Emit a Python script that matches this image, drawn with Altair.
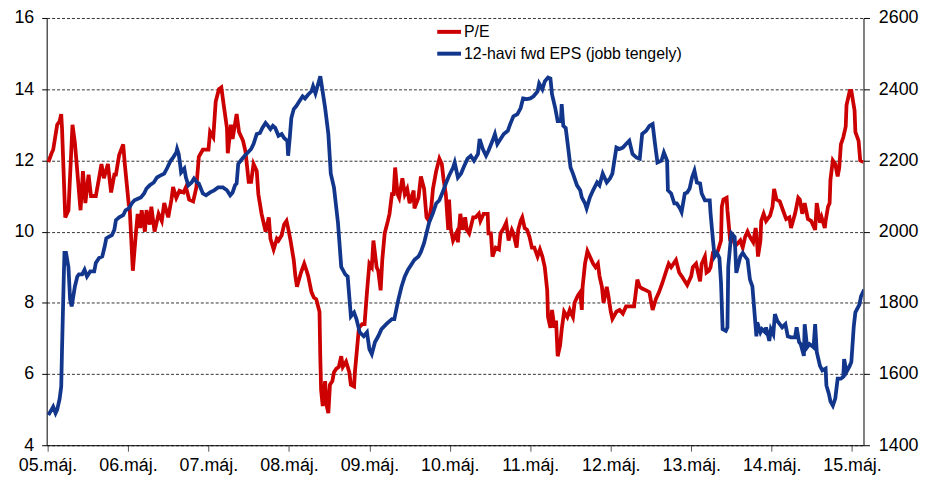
import altair as alt
import pandas as pd

# time in years since 1 May 2005
pe_t = [0.01,0.05,0.07,0.12,0.15,0.17,0.18,0.22,0.26,0.31,
        0.34,0.41,0.44,0.47,0.51,0.54,0.60,0.64,0.67,0.70,
        0.75,0.79,0.83,0.85,0.89,0.94,0.96,1.01,1.02,1.06,
        1.10,1.12,1.15,1.17,1.21,1.23,1.27,1.29,1.33,1.38,
        1.42,1.45,1.50,1.54,1.56,1.60,1.64,1.69,1.72,1.76,
        1.81,1.85,1.88,1.93,2.00,2.02,2.06,2.09,2.13,2.16,
        2.19,2.23,2.24,2.28,2.30,2.35,2.38,2.43,2.46,2.50,
        2.53,2.56,2.60,2.62,2.66,2.69,2.71,2.75,2.77,2.81,
        2.85,2.87,2.91,2.94,2.97,2.99,3.02,3.06,3.08,3.10,
        3.15,3.19,3.22,3.24,3.28,3.31,3.34,3.38,3.39,3.40,
        3.42,3.45,3.47,3.49,3.51,3.54,3.56,3.59,3.62,3.65,
        3.67,3.71,3.75,3.77,3.81,3.82,3.87,3.91,3.94,3.97,
        4.00,4.03,4.05,4.09,4.11,4.14,4.16,4.19,4.23,4.25,
        4.28,4.30,4.32,4.35,4.37,4.41,4.44,4.47,4.50,4.55,
        4.56,4.61,4.64,4.68,4.71,4.74,4.77,4.79,4.83,4.87,
        4.90,4.92,4.95,4.98,4.99,5.01,5.04,5.08,5.10,5.13,
        5.16,5.19,5.21,5.24,5.29,5.32,5.36,5.38,5.42,5.47,
        5.48,5.51,5.53,5.57,5.61,5.63,5.67,5.70,5.73,5.77,
        5.79,5.83,5.85,5.88,5.90,5.93,5.96,5.99,6.02,6.05,
        6.09,6.12,6.15,6.18,6.21,6.22,6.25,6.27,6.30,6.32,
        6.34,6.37,6.39,6.42,6.46,6.49,6.53,6.55,6.59,6.62,
        6.64,6.65,6.68,6.71,6.74,6.78,6.81,6.84,6.86,6.89,
        6.91,6.95,6.97,7.00,7.02,7.07,7.11,7.15,7.19,7.26,
        7.29,7.33,7.36,7.39,7.44,7.48,7.52,7.56,7.60,7.64,
        7.69,7.72,7.75,7.81,7.85,7.88,7.95,8.00,8.02,8.06,
        8.08,8.11,8.13,8.17,8.19,8.22,8.24,8.27,8.30,8.33,
        8.37,8.38,8.40,8.44,8.45,8.48,8.50,8.55,8.57,8.61,
        8.64,8.67,8.70,8.73,8.77,8.80,8.81,8.83,8.86,8.87,
        8.90,8.93,8.98,9.01,9.03,9.06,9.10,9.14,9.18,9.22,
        9.24,9.29,9.33,9.35,9.38,9.41,9.45,9.49,9.54,9.56,
        9.60,9.62,9.66,9.67,9.70,9.72,9.73,9.76,9.79,9.82,
        9.84,9.86,9.89,9.92,9.93,9.97,9.99,10.03,10.04,10.08,
        10.10,10.14]

pe_values = [11.95,12.2,12.3,13.0,13.1,13.3,12.9,10.4,10.6,13.0,
             12.5,10.6,11.7,10.8,11.6,11.0,11.0,11.5,11.9,11.5,
             11.9,11.1,11.6,11.6,12.15,12.45,11.9,10.75,10.7,8.9,
             10.0,10.5,10.1,10.6,10.0,10.6,10.2,10.7,10.0,10.5,
             10.3,10.8,10.4,10.9,11.25,10.95,11.15,11.1,11.25,10.9,
             10.85,11.25,12.1,12.3,12.3,12.8,12.65,13.65,14.0,14.05,
             13.55,12.9,12.2,13.0,12.6,13.3,12.8,12.55,12.25,11.4,
             11.4,11.9,11.7,11.05,10.5,10.2,10.0,10.4,9.8,9.5,
             9.8,9.75,9.9,10.2,10.3,10.1,9.75,9.2,8.75,8.45,
             8.85,9.1,8.9,8.75,8.3,8.15,8.1,7.75,6.45,5.55,
             5.1,5.8,5.1,4.9,5.7,5.8,6.05,6.15,6.2,6.5,
             6.2,6.35,6.05,5.7,5.65,6.05,7.3,7.4,7.4,8.3,
             9.1,9.0,9.75,9.0,8.9,8.35,9.2,9.95,10.3,10.5,
             11.05,11.05,11.8,11.05,10.95,11.5,11.05,11.2,10.8,11.15,
             10.65,10.95,11.55,11.2,10.4,10.3,10.7,11.2,11.7,12.05,
             11.9,11.5,11.05,10.05,10.9,10.1,9.75,9.95,9.7,10.5,
             10.05,10.4,10.05,9.95,10.4,10.4,10.5,10.3,10.5,10.5,
             9.95,9.95,9.3,9.55,9.5,9.95,10.1,10.25,9.75,10.05,
             9.95,9.55,10.05,10.3,10.4,10.1,10.05,9.85,9.55,9.55,
             9.3,9.5,9.3,9.0,8.35,7.6,7.3,7.8,7.3,7.5,
             6.5,6.8,7.25,7.75,7.6,7.8,7.6,8.0,8.2,8.3,
             7.8,8.45,9.1,9.45,9.3,9.1,9.0,9.1,8.75,8.45,
             8.0,8.45,8.2,7.75,7.55,7.75,7.8,7.7,7.9,7.9,
             7.9,8.65,8.45,8.4,8.35,8.3,7.8,8.1,8.3,8.55,
             8.9,9.1,9.0,9.2,8.85,8.75,8.5,8.75,9.0,9.1,
             8.9,8.6,9.1,9.3,8.85,8.9,9.0,9.4,9.4,9.45,
             9.75,10.7,10.9,10.95,10.6,9.85,9.9,9.6,9.65,9.75,
             9.55,9.85,10.0,9.85,9.7,10.1,9.95,9.3,9.75,10.3,
             10.5,10.3,10.45,10.7,11.2,10.9,10.85,10.6,10.35,10.4,
             10.1,10.5,10.95,10.9,10.5,10.8,10.35,10.3,10.05,10.8,
             10.25,10.4,10.1,10.3,10.7,10.8,11.45,12.0,11.9,11.55,
             11.8,12.45,12.65,12.95,13.55,13.95,13.95,13.4,12.8,12.55,
             12.0,11.95]

eps_t = [0.01,0.05,0.07,0.10,0.12,0.15,0.17,0.18,0.20,0.21,
         0.23,0.26,0.28,0.30,0.32,0.34,0.37,0.39,0.43,0.46,
         0.49,0.53,0.58,0.60,0.64,0.68,0.71,0.73,0.76,0.80,
         0.83,0.85,0.89,0.94,0.97,1.01,1.05,1.08,1.13,1.16,
         1.20,1.23,1.27,1.32,1.36,1.40,1.45,1.49,1.53,1.56,
         1.60,1.61,1.63,1.65,1.66,1.70,1.72,1.75,1.79,1.82,
         1.86,1.88,1.93,1.97,2.02,2.07,2.12,2.18,2.23,2.27,
         2.30,2.33,2.35,2.37,2.40,2.45,2.49,2.53,2.56,2.60,
         2.64,2.67,2.71,2.74,2.77,2.80,2.83,2.87,2.91,2.94,
         2.98,2.99,3.01,3.03,3.06,3.09,3.13,3.17,3.20,3.24,
         3.28,3.30,3.33,3.39,3.40,3.45,3.49,3.52,3.56,3.61,
         3.65,3.70,3.73,3.77,3.81,3.84,3.88,3.93,3.97,4.00,
         4.03,4.07,4.11,4.15,4.21,4.28,4.31,4.36,4.40,4.44,
         4.48,4.52,4.56,4.61,4.64,4.68,4.72,4.74,4.79,4.83,
         4.87,4.92,4.95,4.99,5.04,5.06,5.10,5.14,5.17,5.22,
         5.26,5.30,5.35,5.37,5.41,5.45,5.48,5.53,5.56,5.59,
         5.63,5.67,5.72,5.75,5.79,5.84,5.88,5.91,5.96,6.00,
         6.04,6.09,6.11,6.15,6.18,6.22,6.25,6.27,6.31,6.34,
         6.38,6.39,6.41,6.44,6.47,6.50,6.53,6.58,6.62,6.64,
         6.68,6.70,6.74,6.78,6.83,6.86,6.90,6.95,6.99,7.02,
         7.07,7.11,7.15,7.19,7.23,7.27,7.32,7.36,7.39,7.44,
         7.48,7.52,7.55,7.58,7.63,7.66,7.70,7.71,7.75,7.79,
         7.82,7.86,7.88,7.92,7.95,7.98,8.01,8.04,8.07,8.11,
         8.13,8.17,8.23,8.24,8.27,8.29,8.32,8.35,8.37,8.39,
         8.43,8.45,8.46,8.49,8.50,8.54,8.56,8.57,8.61,8.64,
         8.67,8.70,8.73,8.76,8.78,8.81,8.82,8.86,8.88,8.92,
         8.93,8.97,8.99,9.02,9.04,9.07,9.10,9.13,9.17,9.20,
         9.24,9.29,9.31,9.34,9.36,9.40,9.41,9.44,9.47,9.50,
         9.52,9.54,9.56,9.60,9.63,9.67,9.68,9.71,9.73,9.76,
         9.79,9.82,9.86,9.89,9.90,9.93,9.97,9.99,10.02,10.04,
         10.09,10.11,10.15]

eps_values = [1485,1500,1508,1490,1500,1530,1565,1670,1857,1940,
              1940,1900,1810,1790,1818,1846,1874,1880,1880,1893,
              1874,1888,1888,1912,1926,1930,1958,1981,1985,1990,
              2005,2032,2040,2046,2060,2065,2080,2088,2093,2096,
              2107,2121,2130,2138,2152,2157,2163,2180,2199,2208,
              2222,2232,2218,2185,2166,2177,2152,2130,2138,2149,
              2138,2135,2107,2102,2110,2116,2124,2124,2116,2102,
              2110,2130,2135,2190,2199,2213,2222,2232,2246,2274,
              2277,2291,2305,2297,2288,2297,2291,2269,2274,2263,
              2255,2213,2263,2319,2344,2352,2366,2380,2374,2385,
              2394,2408,2388,2436,2422,2347,2274,2163,2124,2024,
              1901,1880,1874,1762,1773,1754,1717,1706,1717,1670,
              1656,1690,1706,1726,1740,1754,1754,1809,1846,1874,
              1893,1907,1921,1930,1943,1968,2005,2024,2052,2079,
              2088,2116,2135,2157,2180,2194,2152,2163,2180,2205,
              2213,2199,2218,2260,2232,2213,2227,2255,2274,2246,
              2260,2274,2283,2302,2324,2330,2347,2374,2372,2374,
              2380,2394,2416,2400,2422,2433,2430,2385,2347,2310,
              2310,2358,2297,2291,2236,2180,2163,2130,2116,2096,
              2079,2065,2096,2116,2138,2130,2163,2138,2149,2163,
              2236,2232,2236,2246,2255,2218,2208,2205,2274,2283,
              2297,2302,2246,2194,2199,2222,2199,2116,2107,2079,
              2079,2065,2055,2107,2110,2121,2152,2171,2138,2135,
              2107,2088,2088,2052,1976,1930,1940,1926,1857,1726,
              1721,1731,1901,1976,1995,1985,1884,1893,1930,1940,
              1930,1921,1865,1846,1790,1706,1745,1717,1726,1717,
              1731,1693,1726,1712,1768,1749,1740,1731,1740,1706,
              1703,1703,1731,1690,1684,1651,1740,1675,1684,1679,
              1675,1740,1662,1623,1610,1615,1568,1545,1523,1511,
              1531,1587,1587,1592,1642,1606,1623,1634,1734,1773,
              1795,1818,1837]

tick_years = list(range(2005, 2016))
left_ticks = [4, 6, 8, 10, 12, 14, 16]
right_ticks = [1400, 1600, 1800, 2000, 2200, 2400, 2600]
series_names = ["P/E", "12-havi fwd EPS (jobb tengely)"]
series_colors = ["#CC0000", "#12368C"]

start = pd.Timestamp("2005-05-01")


def to_dates(ts):
    return [start + pd.Timedelta(days=t * 365.25) for t in ts]


pe_df = pd.DataFrame({"date": to_dates(pe_t), "value": pe_values,
                      "series": series_names[0]})
eps_df = pd.DataFrame({"date": to_dates(eps_t), "value": eps_values,
                       "series": series_names[1]})

FONT = "Liberation Sans"

x_enc = alt.X(
    "date:T",
    title=None,
    scale=alt.Scale(domain=[alt.DateTime(year=2005, month=4, date=27),
                            alt.DateTime(year=2015, month=6, date=22)]),
    axis=alt.Axis(
        values=[alt.DateTime(year=y, month=5, date=1) for y in tick_years],
        labelExpr="timeFormat(datum.value, '%y') + '.máj.'",
        grid=False, tickSize=6, labelPadding=5, tickColor="#555555",
        domainColor="black", labelFontSize=18, labelFont=FONT,
        labelColor="black", labelAngle=0, labelOverlap=False,
        labelBound=False, labelFlush=False,
    ),
)

color_scale = alt.Scale(domain=series_names, range=series_colors)
legend = alt.Legend(
    orient="none", legendX=392, legendY=0, title=None,
    symbolType="stroke", symbolStrokeWidth=4, symbolSize=576,
    labelFontSize=16, labelFont=FONT, labelColor="black",
    labelOffset=1, rowPadding=-7, padding=0, labelLimit=500,
)
color_enc = alt.Color("series:N", scale=color_scale, legend=legend)

pe_line = alt.Chart(pe_df).mark_line(strokeWidth=3.8, clip=True).encode(
    x=x_enc,
    y=alt.Y("value:Q", title=None,
            scale=alt.Scale(domain=[4, 16], nice=False, zero=False),
            axis=alt.Axis(values=left_ticks, orient="left", grid=True,
                          gridDash=[3, 2], gridColor="#333333", gridWidth=1,
                          tickSize=5, labelPadding=8, tickColor="black",
                          domainColor="black", labelFontSize=18,
                          labelFont=FONT, labelColor="black")),
    color=color_enc,
)

eps_line = alt.Chart(eps_df).mark_line(strokeWidth=3.8, clip=True).encode(
    x=x_enc,
    y=alt.Y("value:Q", title=None,
            scale=alt.Scale(domain=[1400, 2600], nice=False, zero=False),
            axis=alt.Axis(values=right_ticks, orient="right", grid=False,
                          format="d", tickSize=6, labelPadding=9,
                          tickColor="black", domainColor="black",
                          labelFontSize=18, labelFont=FONT,
                          labelColor="black")),
    color=color_enc,
)

chart = alt.layer(pe_line, eps_line).resolve_scale(y="independent").properties(
    width=824, height=431,
    padding={"left": 39, "top": 8, "right": 58, "bottom": 32},
    autosize=alt.AutoSizeParams(type="none"),
    background="white",
).configure_view(stroke=None)

chart.save("out.html", embed_options={"renderer": "svg", "actions": False})
